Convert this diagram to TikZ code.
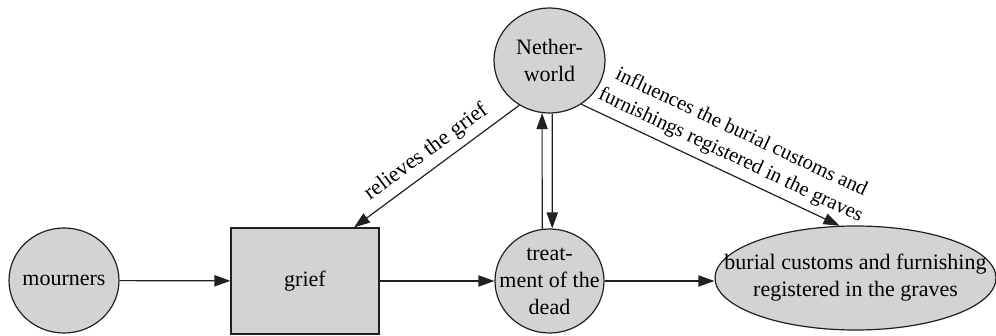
\documentclass[tikz,border=0pt]{standalone}
\usepackage{fontspec}
\setmainfont{Liberation Serif}
\usetikzlibrary{shapes.geometric,arrows.meta}
\definecolor{nodefill}{RGB}{209,211,212}
\definecolor{linecol}{RGB}{35,31,32}
\begin{document}
\begin{tikzpicture}[x=0.5pt,y=-0.5pt,
    font=\fontsize{11}{13.5}\selectfont,
    blob/.style={ellipse,draw=linecol,fill=nodefill,line width=0.6pt,inner sep=-20pt,align=center},
    flow/.style={line width=0.6pt,draw=linecol,-{Triangle[length=8pt,width=5.6pt]}}]
    \useasboundingbox (0,0) rectangle (996,336);

    \node[blob,minimum width=55pt,minimum height=52.5pt] (mourners) at (64,280.5) {mourners};
    \node[draw=linecol,fill=nodefill,line width=0.6pt,minimum width=74pt,minimum height=53pt] (grief) at (305,281) {grief};
    \node[blob,minimum width=54.5pt,minimum height=52pt] (treat) at (549.5,281) {treat-\\ment of the\\dead};
    \node[blob,minimum width=55.5pt,minimum height=52.5pt] (nether) at (549.5,60.5) {Nether-\\world};
    \node[blob,minimum width=140.5pt,minimum height=52pt] (burial) at (855.5,278) {burial customs and furnishing\\registered in the graves};

%    \node (a) at (0,0) {};

\draw [flow] (mourners) -- (grief);
\draw [flow] (grief) -- (treat);
\draw [flow] (treat.east) -- (treat.east -| burial.west);
\draw [flow] (treat.98) -- (nether.262);
\draw [flow] (nether.273) -- (treat.87);
\draw [flow] (nether.236) -- ([xshift=24.5pt]grief.north)
node[midway,sloped,above] {relieves the grief};
\draw [flow] (nether.306) -- (burial.107)
node[pos=0.55,sloped,above,align=center,font=\fontsize{10.3}{12.6}\selectfont] {influences the burial customs and\\furnishings registered in the graves};
\end{tikzpicture}
\end{document}
